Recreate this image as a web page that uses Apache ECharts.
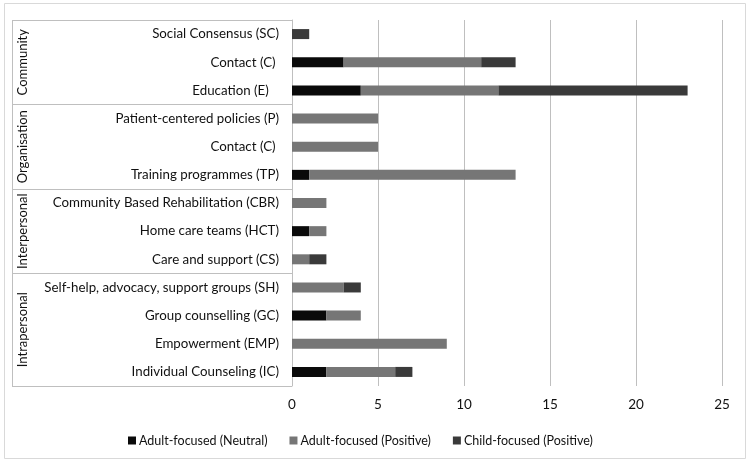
<!DOCTYPE html>
<html><head><meta charset="utf-8">
<script src="https://cdn.jsdelivr.net/npm/echarts@6/dist/echarts.min.js"></script>
<style>html,body{margin:0;padding:0;background:#fff}#c{width:750px;height:463px}</style>
</head><body><div id="c"></div>
<script>
const categories = ['Social Consensus (SC)','Contact (C) ','Education (E)   ','Patient-centered policies (P)','Contact (C) ','Training programmes (TP)','Community Based Rehabilitation (CBR)','Home care teams (HCT)','Care and support (CS)','Self-help, advocacy, support groups (SH)','Group counselling (GC)','Empowerment (EMP)','Individual Counseling (IC)'];
const groups = ['Community','Organisation','Interpersonal','Intrapersonal'];
const groupSizes = [3,3,3,4];
const seriesNames = ['Adult-focused (Neutral)','Adult-focused (Positive)','Child-focused (Positive)'];
const adultNeutral = [0,3,4,0,0,1,0,1,0,0,2,0,2];
const adultPositive = [0,8,8,5,5,12,2,1,1,3,2,9,4];
const childPositive = [1,2,11,0,0,0,0,0,1,1,0,0,1];
const xTicks = [0,5,10,15,20,25];
const colors = ['#0a0a0a','#767676','#3a3a3a'];
const FONT = 'Lato';
const TXT = '#111';

const chart = echarts.init(document.getElementById('c'), null, {renderer:'canvas'});
const data = [adultNeutral, adultPositive, childPositive];
chart.setOption({
  animation:false,
  textStyle:{fontFamily:FONT},
  grid:{left:292,right:28,top:20,bottom:77,containLabel:false},
  xAxis:{type:'value',min:xTicks[0],max:xTicks[xTicks.length-1],interval:5,
    axisLine:{show:false},axisTick:{show:false},
    splitLine:{show:true,lineStyle:{color:'#bfbfbf',width:1}},
    axisLabel:{margin:12,fontSize:13.5,color:TXT,fontFamily:FONT}},
  yAxis:{type:'category',data:categories,inverse:true,
    axisLine:{show:true,lineStyle:{color:'#bfbfbf'}},axisTick:{show:false},
    axisLabel:{margin:13,fontSize:13.3,color:TXT,fontFamily:FONT}},
  legend:{top:429,left:123,itemWidth:8,itemHeight:8,itemGap:22,icon:'rect',
    textStyle:{fontSize:12.5,color:TXT,fontFamily:FONT,padding:[0,0,0,-2]},data:seriesNames},
  series:seriesNames.map((n,i)=>({name:n,type:'bar',stack:'t',barWidth:10,data:data[i],
    itemStyle:{color:colors[i]}}))
});

function draw(){
  const g=[];
  const p0 = chart.convertToPixel({yAxisIndex:0},0);
  const step = chart.convertToPixel({yAxisIndex:0},1) - p0;
  const y0 = p0 - step/2;
  const xr = chart.convertToPixel({xAxisIndex:0},0);
  const xl = 12;
  g.push({type:'rect',shape:{x:4.5,y:3.5,width:741,height:455},style:{fill:null,stroke:'#d9d9d9',lineWidth:1},silent:true});
  let idx=0;
  const lines=[y0];
  groups.forEach((name,k)=>{
    const top=y0+idx*step; idx+=groupSizes[k]; const bot=y0+idx*step;
    lines.push(bot);
    g.push({type:'text',x:23,y:(top+bot)/2,rotation:Math.PI/2,
      style:{text:name,fontSize:13,fill:TXT,fontFamily:FONT,align:'center',verticalAlign:'middle'},silent:true});
  });
  lines.forEach(y=>{
    const yy=Math.round(y)+0.5;
    g.push({type:'line',shape:{x1:xl,y1:yy,x2:xr,y2:yy},style:{stroke:'#bfbfbf',lineWidth:1},silent:true});
  });
  g.push({type:'line',shape:{x1:xl+0.5,y1:Math.round(y0)+0.5,x2:xl+0.5,y2:Math.round(lines[lines.length-1])+0.5},style:{stroke:'#bfbfbf',lineWidth:1},silent:true});
  chart.setOption({graphic:{elements:g}});
}
draw();
</script></body></html>
